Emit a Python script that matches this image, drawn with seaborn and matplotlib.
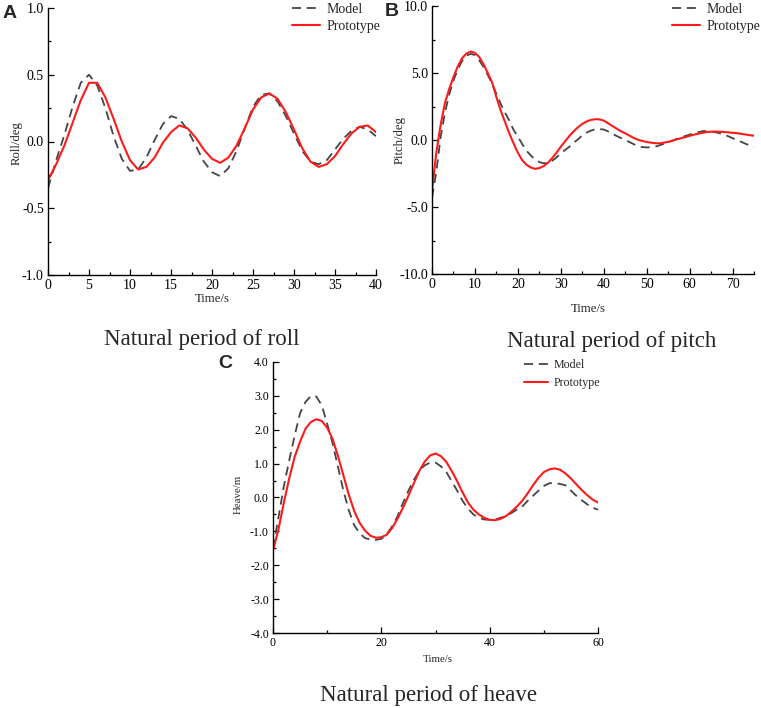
import numpy as np
import pandas as pd
import matplotlib
matplotlib.use('Agg')
import matplotlib.pyplot as plt
from matplotlib.ticker import MultipleLocator, FormatStrFormatter
import seaborn as sns

# ── data (time in s) ────────────────────────────────────────────────
roll_t = list(range(0, 41))
roll_model = [-0.35, -0.14, 0.05, 0.26, 0.44, 0.50, 0.42, 0.25, 0.04, -0.13,
              -0.22, -0.21, -0.12, 0.01, 0.13, 0.19, 0.17, 0.09, -0.03, -0.15,
              -0.23, -0.26, -0.20, -0.07, 0.10, 0.26, 0.35, 0.36, 0.30, 0.19,
              0.06, -0.07, -0.15, -0.17, -0.14, -0.06, 0.02, 0.08, 0.11, 0.09,
              0.04]
roll_proto = [-0.29, -0.17, -0.03, 0.14, 0.31, 0.44, 0.44, 0.33, 0.17, 0.00,
              -0.14, -0.21, -0.19, -0.12, -0.01, 0.07, 0.12, 0.10, 0.03, -0.06,
              -0.13, -0.16, -0.12, -0.03, 0.10, 0.24, 0.33, 0.36, 0.32, 0.22,
              0.09, -0.05, -0.15, -0.19, -0.17, -0.11, -0.02, 0.06, 0.11, 0.12,
              0.07]

pitch_t = list(range(0, 76))
pitch_model = [-4.3, -2.4, 0.2, 2.0, 3.4, 4.45, 5.25, 5.9, 6.3, 6.42,
               6.35, 5.95, 5.45, 4.85, 4.2, 3.45, 2.7, 2.05, 1.45, 0.75,
               0.25, -0.3, -0.8, -1.15, -1.45, -1.65, -1.74, -1.72, -1.55, -1.3,
               -1.0, -0.75, -0.5, -0.2, 0.05, 0.35, 0.55, 0.7, 0.8, 0.82,
               0.78, 0.65, 0.47, 0.3, 0.15, 0.0, -0.15, -0.32, -0.45, -0.53,
               -0.55, -0.54, -0.5, -0.4, -0.28, -0.17, -0.05, 0.08, 0.18, 0.3,
               0.4, 0.5, 0.58, 0.66, 0.67, 0.64, 0.58, 0.5, 0.41, 0.28,
               0.14, 0.0, -0.13, -0.28, -0.4, -0.5]
pitch_proto = [-3.75, -0.95, 1.1, 2.75, 3.8, 4.7, 5.5, 6.1, 6.45, 6.6,
               6.5, 6.2, 5.65, 5.0, 4.3, 3.2, 2.2, 1.35, 0.5, -0.25,
               -0.95, -1.5, -1.85, -2.05, -2.15, -2.1, -1.95, -1.7, -1.35, -0.95,
               -0.5, -0.1, 0.3, 0.65, 0.95, 1.2, 1.38, 1.5, 1.55, 1.54,
               1.45, 1.25, 1.05, 0.85, 0.65, 0.5, 0.32, 0.15, 0.02, -0.07,
               -0.15, -0.2, -0.24, -0.25, -0.2, -0.14, -0.05, 0.05, 0.13, 0.22,
               0.31, 0.4, 0.47, 0.54, 0.59, 0.62, 0.63, 0.62, 0.6, 0.57,
               0.54, 0.51, 0.46, 0.41, 0.36, 0.32]

heave_t = list(range(0, 61))
heave_model = [-1.5, -0.6, 0.33, 1.1, 1.83, 2.49, 2.82, 3.0, 2.98, 2.72,
               2.18, 1.6, 0.9, 0.2, -0.38, -0.82, -1.06, -1.2, -1.24, -1.25,
               -1.22, -1.08, -0.85, -0.55, -0.16, 0.2, 0.52, 0.78, 0.95, 1.03,
               1.03, 0.92, 0.75, 0.48, 0.2, -0.1, -0.33, -0.5, -0.6, -0.65,
               -0.66, -0.65, -0.6, -0.55, -0.46, -0.36, -0.27, -0.1, 0.05, 0.2,
               0.34, 0.42, 0.43, 0.4, 0.36, 0.2, 0.05, -0.08, -0.2, -0.3,
               -0.36]
heave_proto = [-1.56, -0.95, -0.15, 0.57, 1.2, 1.65, 2.03, 2.23, 2.31, 2.26,
               2.06, 1.73, 1.22, 0.65, 0.08, -0.4, -0.75, -0.98, -1.13, -1.19,
               -1.17, -1.1, -0.9, -0.62, -0.3, 0.05, 0.42, 0.78, 1.06, 1.24,
               1.3, 1.22, 1.05, 0.78, 0.48, 0.15, -0.15, -0.36, -0.5, -0.6,
               -0.66, -0.67, -0.63, -0.55, -0.42, -0.27, -0.1, 0.12, 0.36, 0.58,
               0.75, 0.83, 0.86, 0.82, 0.71, 0.56, 0.39, 0.22, 0.07, -0.06,
               -0.15]

# ── style ───────────────────────────────────────────────────────────
sns.set_style('ticks')
plt.rcParams['font.family'] = ['Liberation Serif', 'DejaVu Serif']

W, H = 761, 708
MODEL_C = '#454545'
PROTO_C = '#FF1A1A'

fig = plt.figure(figsize=(W / 100, H / 100), dpi=100)


def px_axes(l, t, r, b):
    return fig.add_axes([l / W, 1 - b / H, (r - l) / W, (b - t) / H])


def fx(x):
    return x / W


def fy(y):
    return 1 - y / H


def panel(ax, t, model, proto, xlim, ylim, xmaj, xmin, ymaj, ymin, ylabel,
          fs, xlab_px, ylab_px, leg_px, lspace):
    df = pd.DataFrame({'t': t, 'model': model, 'proto': proto})
    sns.lineplot(data=df, x='t', y='model', ax=ax, color=MODEL_C, lw=1.3,
                 linestyle=(0, (5, 3.2)), label='Model')
    sns.lineplot(data=df, x='t', y='proto', ax=ax, color=PROTO_C, lw=1.5,
                 label='Prototype')
    ax.set_xlim(*xlim)
    ax.set_ylim(*ylim)
    ax.xaxis.set_major_locator(MultipleLocator(xmaj))
    ax.xaxis.set_minor_locator(MultipleLocator(xmin))
    ax.yaxis.set_major_locator(MultipleLocator(ymaj))
    ax.yaxis.set_minor_locator(MultipleLocator(ymin))
    ax.yaxis.set_major_formatter(FormatStrFormatter('%.1f'))
    ax.tick_params(which='both', direction='in', colors='black',
                   labelsize=fs, width=0.9)
    ax.tick_params(which='major', length=4, pad=3)
    ax.tick_params(which='minor', length=2.5)
    for s in ['top', 'right']:
        ax.spines[s].set_visible(False)
    for s in ['left', 'bottom']:
        ax.spines[s].set_linewidth(1.0)
        ax.spines[s].set_color('black')
    ax.set_xlabel('Time/s', fontsize=fs - 0.8, va='center')
    ax.set_ylabel(ylabel, fontsize=fs - 0.8, va='center')
    ax.xaxis.set_label_coords(fx(xlab_px[0]), fy(xlab_px[1]), transform=fig.transFigure)
    ax.yaxis.set_label_coords(fx(ylab_px[0]), fy(ylab_px[1]), transform=fig.transFigure)
    ax.legend(loc='upper left', bbox_to_anchor=(fx(leg_px[0]), fy(leg_px[1])),
              bbox_transform=fig.transFigure, frameon=False, fontsize=fs,
              borderpad=0, borderaxespad=0, handlelength=2.0,
              handletextpad=0.5, labelspacing=lspace)


# ── A: roll ─────────────────────────────────────────────────────────
axA = px_axes(48, 8, 376, 275)
panel(axA, roll_t, roll_model, roll_proto, (0, 40), (-1.0, 1.0), 5, 2.5, 0.5, 0.25,
      'Roll/deg', 10, (212, 299), (17, 143), (292, 3), 0.3)

# ── B: pitch ────────────────────────────────────────────────────────
axB = px_axes(432, 6, 754, 274)
panel(axB, pitch_t, pitch_model, pitch_proto, (0, 75), (-10.0, 10.0), 10, 5, 5, 2.5,
      'Pitch/deg', 10, (588, 309), (400, 140), (672, 3), 0.3)

# ── C: heave ────────────────────────────────────────────────────────
axC = px_axes(273, 362, 598, 633)
panel(axC, heave_t, heave_model, heave_proto, (0, 60), (-4.0, 4.0), 20, 10, 1, 0.5,
      'Heave/m', 8.6, (438, 659), (238, 494), (524, 359), 0.5)

# ── captions & panel letters ───────────────────────────────────────
cap_kw = dict(ha='center', va='baseline', fontsize=16.5)
fig.text(fx(202), fy(345), 'Natural period of roll', **cap_kw)
fig.text(fx(612), fy(347), 'Natural period of pitch', **cap_kw)
fig.text(fx(428), fy(701), 'Natural period of heave', **cap_kw)

let_kw = dict(ha='center', va='center', fontsize=14, fontweight='bold',
              family=['Liberation Sans', 'DejaVu Sans'])
fig.text(fx(10), fy(13), 'A', **let_kw)
fig.text(fx(392), fy(11), 'B', **let_kw)
fig.text(fx(225), fy(364), 'C', **let_kw)

fig.savefig('out.png', dpi=100, facecolor='white')
